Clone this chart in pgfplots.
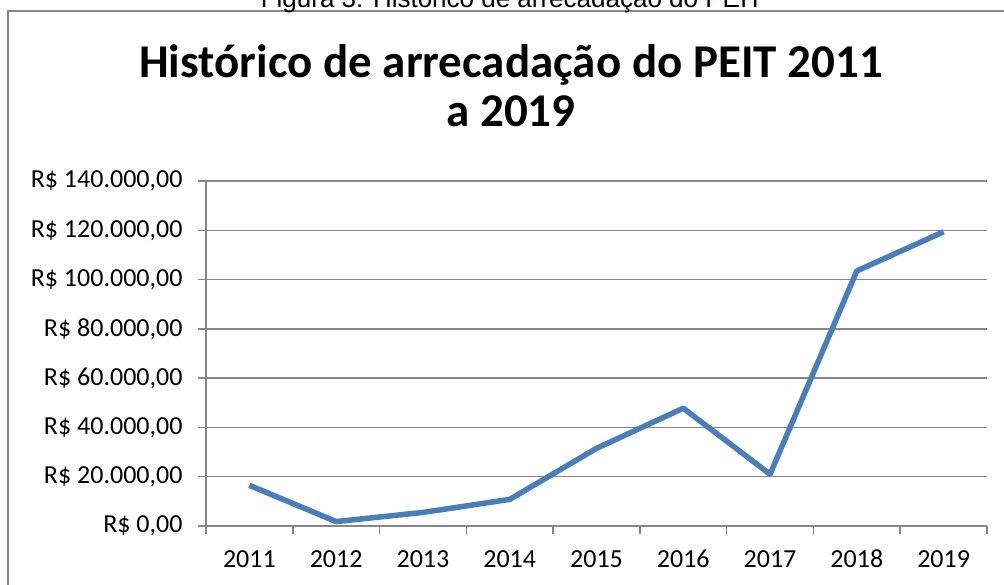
\documentclass[border=0pt]{standalone}
\usepackage{pgfplots}
\pgfplotsset{compat=1.18}
\usepackage{fontspec}
\setmainfont{Carlito}
\newfontfamily\arialfont{Liberation Sans}
\definecolor{linecol}{HTML}{4A7EBB}
\definecolor{gridcol}{HTML}{878787}
\begin{document}
\begin{tikzpicture}[x=1pt,y=1pt]
\useasboundingbox (0,0) rectangle (1004,585);
\draw[gridcol, line width=1.8pt] (8,-30) rectangle (1060,574);
\node[anchor=base, font=\arialfont\fontsize{26}{30}\selectfont, inner sep=0pt] at (512,577) {Figura 3: Histórico de arrecadação do PEIT};
\node[anchor=base, font=\bfseries\fontsize{47}{49}\selectfont, inner sep=0pt] at (511,507) {Histórico de arrecadação do PEIT 2011};
\node[anchor=base, font=\bfseries\fontsize{47}{49}\selectfont, inner sep=0pt] at (511,458) {a 2019};
\begin{axis}[
  at={(206pt,59pt)}, anchor=south west,
  scale only axis, width=781pt, height=345pt,
  xmin=-0.5, xmax=8.5, ymin=0, ymax=140000,
  axis x line*=bottom, axis y line*=left,
  axis line style={gridcol, line width=1.5pt, -},
  xtick={-0.5,0.5,...,8.5}, xticklabels={},
  extra x ticks={0,1,2,3,4,5,6,7,8},
  extra x tick labels={2011,2012,2013,2014,2015,2016,2017,2018,2019},
  extra x tick style={major tick length=0pt},
  ytick={0,20000,40000,60000,80000,100000,120000,140000},
  yticklabels={{R\$ 0,00},{R\$ 20.000,00},{R\$ 40.000,00},{R\$ 60.000,00},{R\$ 80.000,00},{R\$ 100.000,00},{R\$ 120.000,00},{R\$ 140.000,00}},
  scaled y ticks=false,
  ymajorgrids, grid style={gridcol, line width=1.5pt},
  tick align=outside, major tick length=8pt,
  tick style={gridcol, line width=1.5pt},
  xticklabel style={font=\fontsize{26}{30}\selectfont, text=black, anchor=base, yshift=-42pt},
  yticklabel style={font=\fontsize{26}{30}\selectfont, text=black, xshift=-12pt},
  clip=false,
]
\addplot[linecol, line width=5.5pt, line join=round] coordinates {
 (0,16500) (1,1800) (2,5500) (3,10800) (4,31500) (5,47800) (6,21000) (7,103500) (8,119400)
};
\end{axis}
\end{tikzpicture}
\end{document}
